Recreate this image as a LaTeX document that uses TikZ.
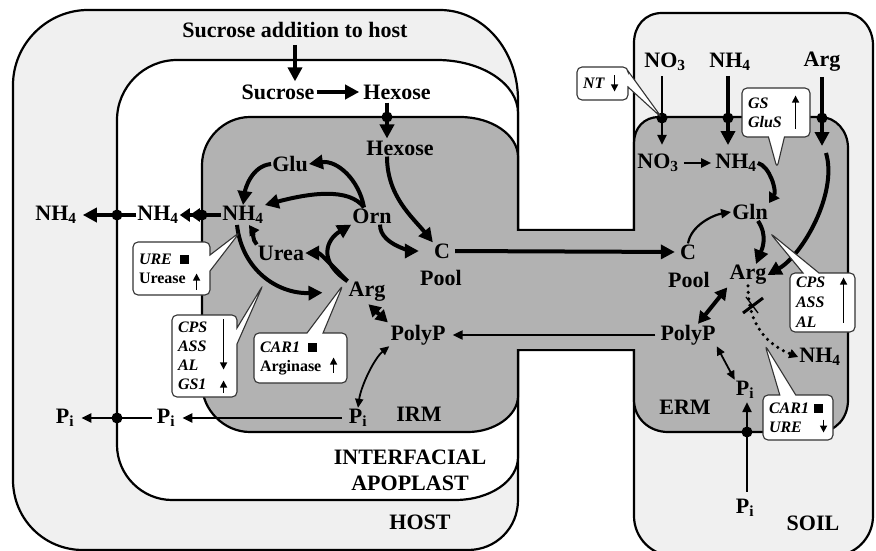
\documentclass[tikz,border=0pt]{standalone}
\usepackage{fontspec}
\setmainfont{Liberation Serif}
\usetikzlibrary{arrows.meta,calc,positioning,shapes.callouts}

\definecolor{hostfill}{gray}{0.94}
\definecolor{hyph}{gray}{0.70}
\newcommand{\sqbox}{\rule{9pt}{9pt}}

\begin{document}
\begin{tikzpicture}[x=1pt,y=-1pt,
  wall/.style={line width=2.2pt},
  lbl/.style={font=\fontsize{22}{26}\selectfont\bfseries,inner sep=1pt},
  thk/.style={line width=4pt,-{Triangle[length=14pt,width=14pt]}},
  thkboth/.style={line width=4pt,{Triangle[length=12pt,width=13pt]}-{Triangle[length=12pt,width=13pt]}},
  thn/.style={line width=2.2pt,-{Triangle[length=10pt,width=9pt]}},
  thnboth/.style={line width=1.8pt,{Triangle[length=9pt,width=8pt]}-{Triangle[length=9pt,width=8pt]}},
  gene/.style={rectangle callout,draw=black!80,fill=white,line width=1.1pt,rounded corners=5pt,
    font=\fontsize{16}{19}\selectfont\bfseries,align=left,inner xsep=6pt,inner ysep=3pt,
    callout pointer width=16pt},
  tick/.style={line width=1.4pt,-{Triangle[length=7pt,width=7pt]}}
]
\useasboundingbox (0,0) rectangle (876,551);

% compartments
\draw[wall,fill=hostfill] (13,85) .. controls (13,44) and (47,10) .. (88,10) -- (440,10)
  .. controls (483,10) and (518,50) .. (518,100) -- (518,500)
  .. controls (518,528) and (496,550) .. (468,550) -- (83,550)
  .. controls (44,550) and (13,519) .. (13,480) -- cycle;
\draw[wall,fill=hostfill] (634,43) .. controls (634,26) and (645,13) .. (662,13) -- (845,13)
  .. controls (861,13) and (873,28) .. (873,45) -- (873,516)
  .. controls (873,538) and (855,556) .. (833,556) -- (674,556)
  .. controls (652,556) and (634,538) .. (634,516) -- cycle;
\draw[wall,fill=white] (117,120) .. controls (117,87) and (144,60) .. (177,60) -- (437,60)
  .. controls (482,60) and (518,84) .. (518,113) -- (518,457)
  .. controls (518,481) and (490,500) .. (455,500) -- (172,500)
  .. controls (142,500) and (117,475) .. (117,445) -- cycle;
\draw[wall,fill=hyph] (202,165) .. controls (202,139) and (224,117) .. (250,117) -- (460,117)
  .. controls (492,117) and (518,135) .. (518,157) -- (518,230) -- (634,230) -- (634,143)
  .. controls (634,128) and (644,117) .. (659,117) -- (820,117)
  .. controls (836,117) and (848,131) .. (848,148) -- (848,400)
  .. controls (848,418) and (836,432) .. (818,432) -- (668,432)
  .. controls (649,432) and (634,418) .. (634,400) -- (634,350) -- (518,350) -- (518,396)
  .. controls (518,416) and (494,432) .. (468,432) -- (250,432)
  .. controls (224,432) and (202,410) .. (202,384) -- cycle;
\fill[hyph] (516.5,231.2) rectangle (635.5,348.8);

% membrane crossings
\coordinate (mHex) at (387,117);
\coordinate (mNhA) at (202,215);
\coordinate (mNhH) at (117,215);
\coordinate (mPiH) at (117,418);
\coordinate (mNo3) at (662,118);
\coordinate (mNh4) at (728,118);
\coordinate (mArg) at (822,118);
\coordinate (mPi) at (747,432);
\coordinate (argIn) at (822,146);
\coordinate (argCv) at (826,153);

% host and IRM side
\node[lbl] (sucAdd) at (295,30) {Sucrose addition to host};
\node[lbl] (sucH) at (278,92) {Sucrose};
\node[lbl] (hexH) at (397,92) {Hexose};
\node[lbl] (hexI) at (400,148) {Hexose};
\node[lbl] (glu) at (290,164) {Glu};
\node[lbl] (nhI) at (243,215) {NH\textsubscript{4}};
\node[lbl] (nhA) at (158,215) {NH\textsubscript{4}};
\node[lbl] (nhH) at (56,215) {NH\textsubscript{4}};
\node[lbl] (orn) at (372,216) {Orn};
\node[lbl] (urea) at (281,253) {Urea};
\node[lbl] (cI) at (442,251) {C};
\node[lbl] (poolI) at (441,278) {Pool};
\node[lbl] (argI) at (367,292) {Arg};
\node[lbl] (polyI) at (418,335) {PolyP};
\node[lbl] (piI) at (358,418) {P\textsubscript{i}};
\node[lbl] (piA) at (166,418) {P\textsubscript{i}};
\node[lbl] (piH) at (65,418) {P\textsubscript{i}};
\node[lbl] (irmLbl) at (419,414) {IRM};
\node[lbl,align=center] (apoLbl) at (410,470) {INTERFACIAL\\APOPLAST};
\node[lbl] (hostLbl) at (420,522) {HOST};

% soil and ERM side
\node[lbl] (no3S) at (665,62) {NO\textsubscript{3}};
\node[lbl] (nhS) at (730,62) {NH\textsubscript{4}};
\node[lbl] (argS) at (822,62) {Arg};
\node[lbl] (no3E) at (658,163) {NO\textsubscript{3}};
\node[lbl] (nhE) at (736,163) {NH\textsubscript{4}};
\node[lbl] (gln) at (750,212) {Gln};
\node[lbl] (cE) at (688,252) {C};
\node[lbl] (poolE) at (689,280) {Pool};
\node[lbl] (argE) at (748,275) {Arg};
\node[lbl] (polyE) at (688,335) {PolyP};
\node[lbl] (nhOut) at (820,357) {NH\textsubscript{4}};
\node[lbl] (piE) at (745,390) {P\textsubscript{i}};
\node[lbl] (erm) at (685,407) {ERM};
\node[lbl] (piS) at (745,508) {P\textsubscript{i}};
\node[lbl] (soilLbl) at (813,523) {SOIL};

% carbon
\draw[thk,shorten <=6pt,shorten >=2pt] (sucAdd.south) -- (sucAdd.south |- sucH.north);
\draw[thk,shorten <=1pt,shorten >=3pt] (sucH.east) -- (hexH.west);
\draw[thk,shorten <=2pt,shorten >=1pt] (mHex |- hexH.south) -- (mHex |- hexI.north);
\draw[thk] ([xshift=-13pt]hexI.south) .. controls +(0,40) and +(-20,-25) .. (cI.north west);
\draw[thk,shorten >=14pt] ([xshift=8pt]orn.south) .. controls +(0,22) and +(-15,0) .. (cI.west);
\draw[thk,shorten <=4pt,shorten >=4pt] (cI.east) -- (cE.west);

% IRM nitrogen
\draw[thk] (glu.west) .. controls +(-20,2) and +(2,-15) .. (nhI.north);
\draw[thk] ([xshift=-8pt]orn.north) .. controls +(-5,-28) and +(28,-4) .. (glu.east);
\draw[thk] ([xshift=-8pt]orn.north) .. controls +(-15,-20) and +(45,-12) .. (nhI.north east);
\draw[line width=4pt,-{Triangle[length=10pt,width=11pt]}] (urea.north west)
  .. controls +(-5,-5) and +(4,6) .. ([xshift=6pt]nhI.south);
\draw[thk,shorten >=25pt] ([xshift=-6pt]nhI.south) .. controls +(5,45) and +(-70,2) .. (argI.west);
\draw[thk] (argI.north west) .. controls +(-30,-20) and +(-25,15) .. (orn.south west);
\draw[thk] (argI.north west) .. controls +(-15,-15) and +(15,0) .. (urea.east);
\draw[line width=4pt,-{Triangle[length=10pt,width=13pt]Triangle[length=10pt,width=13pt]}]
  (nhI.west) -- (nhA.east);
\draw[thk,shorten >=5pt] (nhA.west) -- (nhH.east);
\draw[thkboth,shorten <=2pt,shorten >=2pt] (argI.south) -- (polyI.north west);
\draw[thnboth] (polyI.south west) .. controls +(-15,12) and +(3,-22) .. (piI.north);

% phosphate
\draw[thn,shorten <=4pt,shorten >=6pt] (polyE.west) -- (polyI.east);
\draw[thn,shorten <=6pt,shorten >=6pt] (piI.west) -- (piA.east);
\draw[thn,shorten <=4pt,shorten >=6pt] (piA.west) -- (piH.east);
\draw[thnboth] (polyE.south east) -- (piE.north west);
\draw[thn,shorten <=6pt,shorten >=2pt] (mPi |- piS.north) -- (mPi |- piE.south);

% ERM nitrogen
\draw[thn,shorten <=4pt,shorten >=8pt] (mNo3 |- no3S.south) -- (mNo3 |- no3E.north);
\draw[thk,shorten <=4pt,shorten >=8pt] (mNh4 |- nhS.south) -- (mNh4 |- nhE.north);
\draw[thk,shorten <=4pt] (mArg |- argS.south) -- (argIn);
\draw[thk] (argCv) .. controls +(12,40) and +(35,-20) .. (argE.east);
\draw[thn,shorten <=4pt,shorten >=3pt] (no3E.east) -- (nhE.west);
\draw[line width=4pt,-{Triangle[length=10pt,width=12pt]}] (nhE.east)
  .. controls +(12,3) and +(8,-12) .. (gln.north east);
\draw[thn] (cE.north) .. controls +(3,-18) and +(-18,3) .. (gln.west);
\draw[thk] ([xshift=8pt]gln.south) .. controls +(10,15) and +(6,-15) .. ([xshift=8pt]argE.north);
\draw[thkboth,shorten <=2pt] (argE.south west) -- ([xshift=10pt]polyE.north);
\draw[line width=3.5pt,dash pattern=on 0pt off 6.5pt,line cap=round,
  -{Triangle[length=9pt,width=9pt]}] (argE.south) .. controls +(0,40) and +(-30,-12) .. (nhOut.west);
\draw[line width=3pt] (743,313) -- (763,298);
\draw[line width=1.3pt] (746,297) -- (758,313);

% crossings
\foreach \m in {mHex,mNhA,mNhH,mPiH,mNo3,mNh4,mArg,mPi}
  \fill (\m) circle (5.5pt);

% gene expression
\node[gene,text width=65pt,minimum height=53pt,callout absolute pointer={(240,232)}] (cUre)
  at (171.5,268.5) {\textit{URE}\hspace{8pt}\sqbox\\Urease};
\node[gene,text width=53pt,minimum height=82pt,font=\fontsize{16}{19}\selectfont\bfseries\itshape,
  callout absolute pointer={(263,285)}] (cCPS) at (204.5,356) {CPS\\ASS\\AL\\GS1};
\node[gene,text width=81pt,minimum height=50pt,callout absolute pointer={(343,285)}] (cCarL)
  at (300.5,358) {\textit{CAR1}\hspace{8pt}\sqbox\\Arginase};
\node[gene,text width=39pt,minimum height=33pt,font=\fontsize{16}{19}\selectfont\bfseries\itshape,
  callout absolute pointer={(mNo3)}] (cNT) at (602.5,83.5) {NT};
\node[gene,text width=56pt,minimum height=49pt,font=\fontsize{16}{19}\selectfont\bfseries\itshape,
  callout absolute pointer={(777,168)}] (cGS) at (776,112.5) {GS\\GluS};
\node[gene,text width=53pt,minimum height=59pt,font=\fontsize{16}{20}\selectfont\bfseries\itshape,
  callout absolute pointer={(770,233)}] (cCPSr) at (822.5,302.5) {CPS\\ASS\\AL};
\node[gene,text width=58pt,minimum height=45pt,font=\fontsize{16}{19}\selectfont\bfseries\itshape,
  callout absolute pointer={(765,345)}] (cCarR) at (798,417.5) {CAR1\hspace{5pt}\sqbox\\URE};

\draw[tick] ($(cUre.south east)+(-14,-6)$) -- ++(0,-16);
\draw[tick] ($(cCPS.north east)+(-14,5)$) -- ++(0,50);
\draw[tick] ($(cCPS.south east)+(-14,-5)$) -- ++(0,-12);
\draw[tick] ($(cCarL.south east)+(-14,-11)$) -- ++(0,-15);
\draw[tick] ($(cNT.north east)+(-14,9)$) -- ++(0,16);
\draw[tick] ($(cGS.south east)+(-15,-9)$) -- ++(0,-33);
\draw[tick] ($(cCPSr.south east)+(-12,-10)$) -- ++(0,-45);
\draw[tick] ($(cCarR.south east)+(-10,-21)$) -- ++(0,13);
\end{tikzpicture}
\end{document}
